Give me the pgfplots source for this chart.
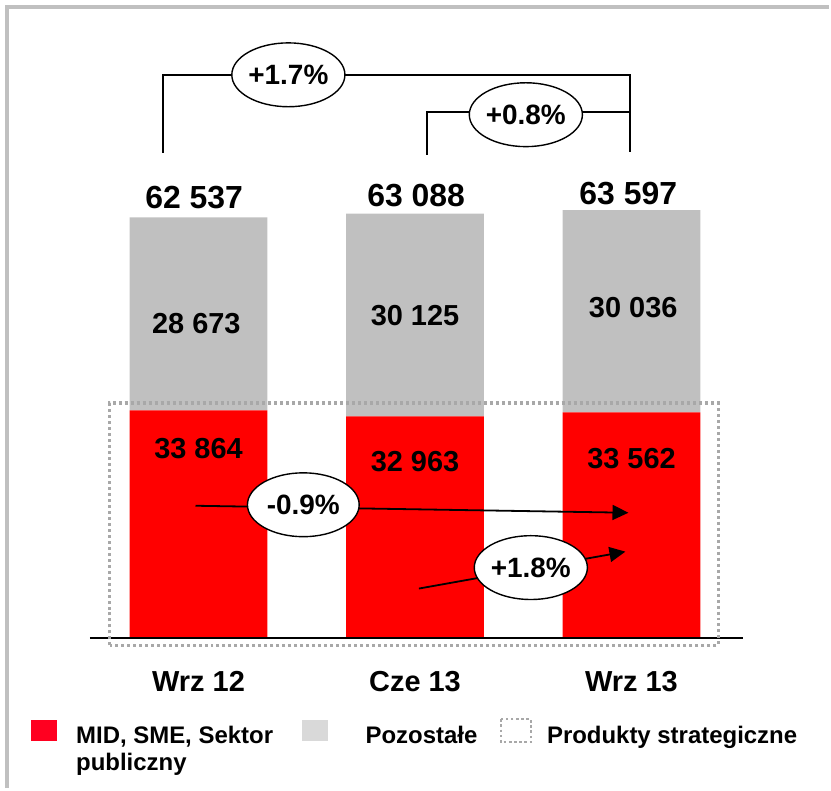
\documentclass[border=0pt]{standalone}
\usepackage{pgfplots}
\pgfplotsset{compat=1.18}
\usepackage{fontspec}
\setmainfont{Liberation Sans}
\usetikzlibrary{arrows.meta,shapes.geometric}
\definecolor{barred}{HTML}{FF0000}
\definecolor{bargray}{HTML}{C0C0C0}
\definecolor{leggray}{HTML}{D9D9D9}
\definecolor{legred}{HTML}{FF0020}
\definecolor{dotgray}{HTML}{A8A8A8}
\definecolor{framegray}{HTML}{C0C0C0}
\tikzset{
  tot/.style={font=\fontsize{16}{19}\selectfont\bfseries},
  seg/.style={font=\fontsize{14.5}{17}\selectfont\bfseries},
  pct/.style={draw, line width=0.7pt, fill=white, ellipse, minimum width=56pt, minimum height=32pt, inner sep=0pt, font=\fontsize{14}{16}\selectfont\bfseries},
  leg/.style={anchor=base west, inner sep=0pt, font=\fontsize{12}{14}\selectfont\bfseries},
}
\begin{document}
\begin{tikzpicture}
\begin{axis}[
  scale only axis, width=415.5pt, height=395pt,
  xmin=-0.9171, xmax=2.9124, ymin=-22222, ymax=94815,
  axis lines=none, ybar stacked, bar width=0.636,
  clip=false,
]
\path (rel axis cs:0,0) rectangle (rel axis cs:1,1);
% bars
\addplot[fill=barred, draw=none] coordinates {(0,33864) (1,32963) (2,33562)};
\addplot[fill=bargray, draw=none] coordinates {(0,28673) (1,30125) (2,30036)};
% coordinates for annotations
\coordinate (F1) at (axis cs:-0.885,-22222);
\coordinate (F2) at (axis cs:-0.885,93778);
\coordinate (F3) at (axis cs:2.9124,93778);
\coordinate (B1) at (axis cs:-0.502,0);
\coordinate (B2) at (axis cs:2.516,0);
\coordinate (D1) at (axis cs:-0.410,-1037);
\coordinate (D2) at (axis cs:2.401,34963);
\coordinate (T0) at (axis cs:-0.02,65481);
\coordinate (T1) at (axis cs:1.005,65778);
\coordinate (T2) at (axis cs:1.985,66074);
\coordinate (G0) at (axis cs:-0.01,46815);
\coordinate (G1) at (axis cs:1,48000);
\coordinate (G2) at (axis cs:2.008,49185);
\coordinate (R0) at (axis cs:0,28148);
\coordinate (R1) at (axis cs:1,26222);
\coordinate (R2) at (axis cs:2,26667);
\coordinate (K1a) at (axis cs:-0.166,72148);
\coordinate (K1b) at (axis cs:-0.166,83704);
\coordinate (K1c) at (axis cs:1.995,83704);
\coordinate (K1d) at (axis cs:1.995,72296);
\coordinate (K2a) at (axis cs:1.055,71852);
\coordinate (K2b) at (axis cs:1.055,78222);
\coordinate (K2c) at (axis cs:1.995,78222);
\coordinate (E1) at (axis cs:0.415,83704);
\coordinate (E2) at (axis cs:1.512,77778);
\coordinate (E3) at (axis cs:0.484,19852);
\coordinate (E4) at (axis cs:1.535,10519);
\coordinate (A1s) at (axis cs:-0.014,19704);
\coordinate (A1e) at (axis cs:1.986,18667);
\coordinate (A2s) at (axis cs:1.018,7407);
\coordinate (A2e) at (axis cs:1.972,12889);
\coordinate (C0) at (axis cs:0,-7852);
\coordinate (C1) at (axis cs:1,-7852);
\coordinate (C2) at (axis cs:2,-7852);
\coordinate (L1a) at (axis cs:-0.774,-12148);
\coordinate (L1b) at (axis cs:-0.654,-15259);
\coordinate (L2a) at (axis cs:0.479,-12148);
\coordinate (L2b) at (axis cs:0.599,-15259);
\coordinate (L3a) at (axis cs:1.396,-12000);
\coordinate (L3b) at (axis cs:1.535,-15407);
\coordinate (LT1) at (axis cs:-0.567,-15556);
\coordinate (LT1b) at (axis cs:-0.567,-19556);
\coordinate (LT2) at (axis cs:0.770,-15556);
\coordinate (LT3) at (axis cs:1.608,-15556);
\end{axis}
% frame
\draw[line width=2pt, framegray] (F1) -- (F2) -- (F3);
% baseline
\draw[line width=1pt, black] (B1) -- (B2);
% dotted rectangle
\draw[line width=1.6pt, dotgray, dash pattern=on 1.5pt off 1.5pt] (D1) rectangle (D2);
% totals
\node[tot] at (T0) {62 537};
\node[tot] at (T1) {63 088};
\node[tot] at (T2) {63 597};
% segment labels
\node[seg] at (G0) {28 673};
\node[seg] at (G1) {30 125};
\node[seg] at (G2) {30 036};
\node[seg] at (R0) {33 864};
\node[seg] at (R1) {32 963};
\node[seg] at (R2) {33 562};
% brackets
\draw[line width=1pt] (K1a) -- (K1b) -- (K1c) -- (K1d);
\draw[line width=1pt] (K2a) -- (K2b) -- (K2c);
\node[pct] at (E1) {+1.7\%};
\node[pct] at (E2) {+0.8\%};
% arrows
\draw[line width=0.9pt, -{Triangle[length=8pt,width=7.5pt]}] (A1s) -- (A1e);
\draw[line width=0.9pt, -{Triangle[length=8pt,width=7.5pt]}] (A2s) -- (A2e);
\node[pct] at (E3) {-0.9\%};
\node[pct] at (E4) {+1.8\%};
% categories
\node[anchor=base, seg] at (C0) {Wrz 12};
\node[anchor=base, seg] at (C1) {Cze 13};
\node[anchor=base, seg] at (C2) {Wrz 13};
% legend
\fill[legred] (L1a) rectangle (L1b);
\fill[leggray] (L2a) rectangle (L2b);
\draw[line width=1.2pt, dotgray, dash pattern=on 1.3pt off 1.3pt] (L3a) rectangle (L3b);
\node[leg] at (LT1) {MID, SME, Sektor};
\node[leg] at (LT1b) {publiczny};
\node[leg] at (LT2) {Pozostałe};
\node[leg] at (LT3) {Produkty strategiczne};
\end{tikzpicture}
\end{document}
